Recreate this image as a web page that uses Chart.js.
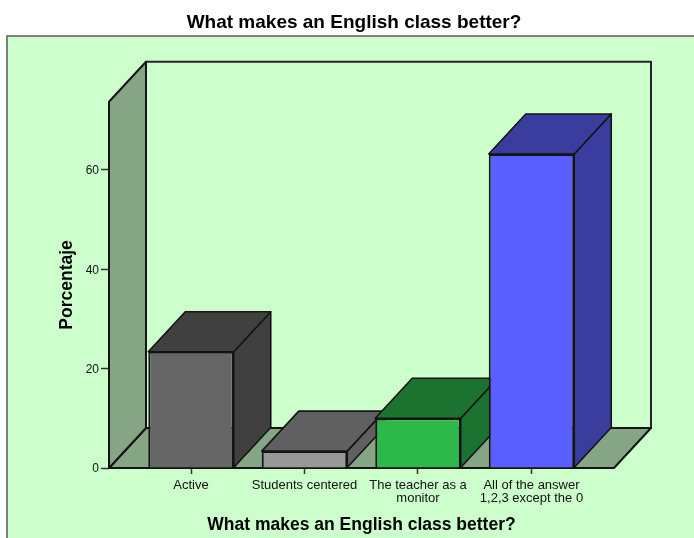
<!DOCTYPE html>
<html>
<head>
<meta charset="utf-8">
<title>What makes an English class better?</title>
<script src="https://cdn.jsdelivr.net/npm/chart.js@4/dist/chart.umd.min.js"></script>
<style>
  html, body { margin: 0; padding: 0; background: #fff; overflow: hidden; }
  canvas { display: block; }
</style>
</head>
<body>
<canvas id="bars" width="694" height="538"></canvas>
<script>
var categories = [
    ['Active'],
    ['Students centered'],
    ['The teacher as a', 'monitor'],
    ['All of the answer', '1,2,3 except the 0']
];
var porcentaje = [23.4, 3.4, 10.0, 63.2];
var frontColors = ['#666666', '#999999', '#2DB84A', '#5A60FF'];
var shadeColors = ['#404040', '#606060', '#1C732F', '#3A3D9E'];
var yTicks = [0, 20, 40, 60];

var chartTitle = 'What makes an English class better?';
var depthX = 37, depthY = 40;
var lineColor = '#141414';

function poly(ctx, pts, fill, stroke, width) {
    ctx.beginPath();
    ctx.moveTo(pts[0][0], pts[0][1]);
    for (var i = 1; i < pts.length; i++) ctx.lineTo(pts[i][0], pts[i][1]);
    ctx.closePath();
    if (fill) { ctx.fillStyle = fill; ctx.fill(); }
    if (stroke) { ctx.strokeStyle = stroke; ctx.lineWidth = width; ctx.lineJoin = 'round'; ctx.stroke(); }
}

// green panel behind the plot, runs off the right and bottom of the canvas
var panel = {
    id: 'panel',
    afterLayout: function (chart) {
        chart.titleBlock.left = 14;
        chart.titleBlock.right = 694;
    },
    beforeDraw: function (chart) {
        var ctx = chart.ctx;
        ctx.save();
        ctx.fillStyle = '#CCFFCC';
        ctx.strokeStyle = '#808080';
        ctx.lineWidth = 2;
        ctx.fillRect(7, 36, 700, 520);
        ctx.strokeRect(7, 36, 700, 520);
        ctx.restore();
    }
};

// walls, floor, then the top and side of each bar; the front faces are the real bars
var box3d = {
    id: 'box3d',
    beforeDatasetsDraw: function (chart) {
        var ctx = chart.ctx, a = chart.chartArea;
        var l = a.left, r = a.right, t = a.top, b = a.bottom;
        var dx = depthX, dy = depthY;
        ctx.save();
        poly(ctx, [[l + dx, t - dy], [r + dx, t - dy], [r + dx, b - dy], [l + dx, b - dy]], '#CCFFCC', '#262626', 2);
        poly(ctx, [[l, b], [r, b], [r + dx, b - dy], [l + dx, b - dy]], '#85A585', lineColor, 2);
        poly(ctx, [[l, b], [l + dx, b - dy], [l + dx, t - dy], [l, t]], '#85A585', lineColor, 2);

        chart.getDatasetMeta(0).data.forEach(function (bar, i) {
            var x0 = bar.x - bar.width / 2, x1 = bar.x + bar.width / 2;
            var top = bar.y, base = bar.base;
            poly(ctx, [[x1, top], [x1 + dx, top - dy], [x1 + dx, base - dy], [x1, base]], shadeColors[i], lineColor, 1.6);
            poly(ctx, [[x0, top], [x1, top], [x1 + dx, top - dy], [x0 + dx, top - dy]], shadeColors[i], lineColor, 1.6);
        });
        ctx.restore();
    }
};

new Chart(document.getElementById('bars').getContext('2d'), {
    type: 'bar',
    data: {
        datasets: [{
            label: 'Porcentaje',
            data: porcentaje.map(function (v, i) { return { x: i, y: v }; }),
            backgroundColor: frontColors,
            borderColor: lineColor,
            borderWidth: 2,
            inflateAmount: 0,
            barPercentage: 0.753,
            categoryPercentage: 1
        }]
    },
    plugins: [panel, box3d],
    options: {
        responsive: false,
        animation: false,
        layout: { padding: { right: 80 } },
        plugins: {
            legend: { display: false },
            tooltip: { enabled: false },
            title: {
                display: true,
                text: chartTitle,
                color: '#000',
                font: { family: 'Liberation Sans', size: 19, weight: 'bold' },
                padding: { top: 11, bottom: 68 }
            }
        },
        scales: {
            x: {
                type: 'linear',
                offset: false,
                min: -0.7225,
                max: 3.727,
                afterFit: function (s) { s.height = 70; },
                afterBuildTicks: function (s) {
                    s.ticks = categories.map(function (c, i) { return { value: i }; });
                },
                grid: { offset: false, drawOnChartArea: false, tickLength: 6, tickColor: '#333', tickWidth: 1.5 },
                border: { display: false },
                ticks: {
                    autoSkip: false,
                    maxRotation: 0,
                    padding: 5,
                    color: '#111',
                    font: { family: 'Liberation Sans', size: 13, lineHeight: 1 },
                    callback: function (v) { return categories[v]; }
                },
                title: {
                    display: true,
                    text: chartTitle,
                    color: '#000',
                    font: { family: 'Liberation Sans', size: 17.5, weight: 'bold' },
                    padding: { top: 0, bottom: 2 }
                }
            },
            y: {
                min: 0,
                max: 73.7,
                afterFit: function (s) { s.width = 109; },
                afterBuildTicks: function (s) {
                    s.ticks = yTicks.map(function (v) { return { value: v }; });
                },
                grid: { drawOnChartArea: false, tickLength: 8, tickColor: '#333', tickWidth: 1.5 },
                border: { display: false },
                ticks: {
                    padding: 2,
                    labelOffset: 1,
                    color: '#111',
                    font: { family: 'Liberation Sans', size: 12 }
                },
                title: {
                    display: true,
                    text: 'Porcentaje',
                    color: '#000',
                    font: { family: 'Liberation Sans', size: 17.5, weight: 'bold' },
                    padding: { top: 57, bottom: 0 }
                }
            }
        }
    }
});
</script>
</body>
</html>
